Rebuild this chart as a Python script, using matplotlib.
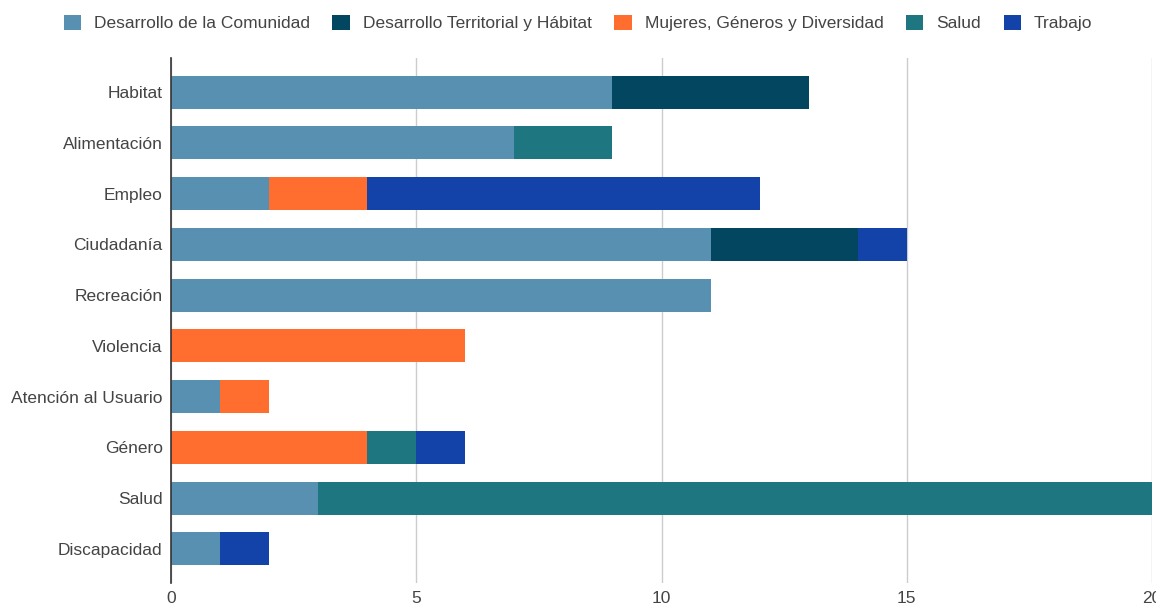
import matplotlib
matplotlib.use('Agg')
import matplotlib.pyplot as plt
import numpy as np

plt.rcParams['font.family'] = ['Liberation Sans', 'DejaVu Sans']

categorias = ['Habitat', 'Alimentación', 'Empleo', 'Ciudadanía', 'Recreación',
              'Violencia', 'Atención al Usuario', 'Género', 'Salud', 'Discapacidad']

series = ['Desarrollo de la Comunidad', 'Desarrollo Territorial y Hábitat',
          'Mujeres, Géneros y Diversidad', 'Salud', 'Trabajo']

desarrollo_comunidad = [9, 7, 2, 11, 11, 0, 1, 0, 3, 1]
desarrollo_territorial = [4, 0, 0, 3, 0, 0, 0, 0, 0, 0]
mujeres_generos = [0, 0, 2, 0, 0, 6, 1, 4, 0, 0]
salud = [0, 2, 0, 0, 0, 0, 0, 1, 17, 0]
trabajo = [0, 0, 8, 1, 0, 0, 0, 1, 0, 1]

colores = ['#5790b0', '#02475f', '#ff6d2f', '#1e7680', '#1343a9']

valores = [desarrollo_comunidad, desarrollo_territorial, mujeres_generos, salud, trabajo]

fig = plt.figure(figsize=(11.56, 6.07), dpi=100)
ax = fig.add_axes([171/1156, 1-583/607, (1152-171)/1156, (583-58)/607])

y = np.arange(len(categorias))
left = np.zeros(len(categorias))
for nombre, vals, c in zip(series, valores, colores):
    vals = np.array(vals, dtype=float)
    ax.barh(y, vals, left=left, height=0.65, color=c, label=nombre, zorder=3)
    left += vals

ax.set_xlim(0, 20)
ax.set_ylim(len(categorias) - 1 + 0.67, -0.67)
ax.set_yticks(y)
ax.set_yticklabels(categorias, fontsize=12.5, color='#444444')
ax.set_xticks([0, 5, 10, 15, 20])
ax.tick_params(axis='both', length=0, pad=6)
ax.tick_params(axis='x', labelsize=12.5, labelcolor='#444444', pad=6)
ax.grid(axis='x', color='#cccccc', linewidth=1, zorder=0)
for s in ['top', 'right', 'bottom']:
    ax.spines[s].set_visible(False)
ax.spines['left'].set_color('#333333')
ax.spines['left'].set_linewidth(1.2)
ax.spines['left'].set_zorder(4)

fig.legend(loc='center', bbox_to_anchor=(0.5, 1-23/607), ncol=5, frameon=False,
           fontsize=12.5, handlelength=1.0, handleheight=1.0, columnspacing=1.3,
           handletextpad=0.75, labelcolor='#444444')

fig.savefig('out.png', dpi=100)
